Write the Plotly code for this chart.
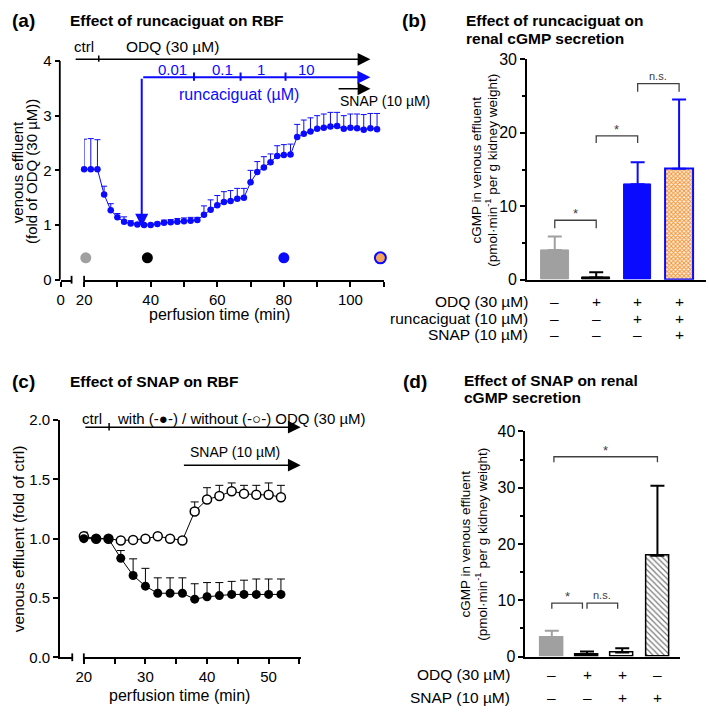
import plotly.graph_objects as go

W, H = 709, 716
def px(x):
    return x / W
def py(y):
    return 1 - y / H

FONT = "Liberation Sans, Arial, sans-serif"
BLUE = "#0A0AFF"
GRAY = "#A0A0A0"

# ---------------- Panel (a): runcaciguat on RBF ----------------
time_a = list(range(20, 110, 2))
rbf_a = [2.02, 2.02, 2.02, 1.56, 1.27, 1.14, 1.06, 1.03, 1.01, 1.00,
         1.00, 1.02, 1.04, 1.05, 1.06, 1.07, 1.08, 1.09, 1.19, 1.28,
         1.36, 1.42, 1.44, 1.48, 1.50, 1.78, 1.97, 2.05, 2.15, 2.26,
         2.28, 2.29, 2.61, 2.67, 2.71, 2.76, 2.78, 2.80, 2.81, 2.76,
         2.78, 2.77, 2.74, 2.77, 2.75]
sem_a = [0.55, 0.56, 0.54, 0.15, 0.12, 0.07, 0.09, 0.05, 0.03, 0.02,
         0.02, 0.03, 0.05, 0.05, 0.06, 0.06, 0.06, 0.05, 0.16, 0.18,
         0.18, 0.19, 0.19, 0.19, 0.17, 0.22, 0.19, 0.20, 0.15, 0.19,
         0.19, 0.19, 0.23, 0.25, 0.25, 0.24, 0.25, 0.26, 0.25, 0.24,
         0.25, 0.26, 0.28, 0.27, 0.29]
sample_time_a = [20.5, 39, 80, 109]
sample_level_a = [0.4, 0.4, 0.4, 0.4]
sample_colors_a = [GRAY, "black", BLUE, "#F5A55A"]
sample_lines_a = [GRAY, "black", BLUE, BLUE]
ticks_a_major = [20, 40, 60, 80, 100]
ticks_a_minor = [30, 50, 70, 90, 110]
yticks_a = [0, 1, 2, 3, 4]
conc_labels = ["0.01", "0.1", "1", "10"]
conc_label_x = [46.4, 61.5, 73, 86.7]
conc_step_x = [53, 67, 80.5]

# ---------------- Panel (b): cGMP with runcaciguat ----------------
cond_b = [0, 1, 2, 3]
cgmp_b = [4.05, 0.30, 13.0, 15.1]
sem_b = [1.85, 0.70, 3.0, 9.45]
odq_b = ["–", "+", "+", "+"]
runc_b = ["–", "–", "+", "+"]
snap_b = ["–", "–", "–", "+"]

# ---------------- Panel (c): SNAP on RBF ----------------
time_c = list(range(20, 54, 2))
with_odq = [1.00, 1.00, 1.00, 0.835, 0.69, 0.60, 0.54, 0.54, 0.54, 0.49,
            0.51, 0.52, 0.53, 0.53, 0.53, 0.53, 0.53]
with_sem = [0.01, 0.01, 0.01, 0.065, 0.14, 0.15, 0.13, 0.13, 0.13, 0.13,
            0.12, 0.11, 0.11, 0.12, 0.13, 0.13, 0.13]
without_odq = [1.02, 1.00, 1.00, 0.985, 0.99, 1.00, 1.02, 1.00, 0.985, 1.23,
               1.33, 1.36, 1.40, 1.38, 1.37, 1.37, 1.35]
without_sem = [0.035, 0.01, 0.01, 0.01, 0.01, 0.01, 0.01, 0.01, 0.01, 0.08,
               0.10, 0.09, 0.07, 0.07, 0.08, 0.10, 0.10]

# ---------------- Panel (d): cGMP with SNAP ----------------
cond_d = [0, 1, 2, 3]
cgmp_d = [3.46, 0.35, 0.75, 17.9]
sem_d = [1.14, 0.57, 0.75, 12.45]
odq_d = ["–", "+", "+", "–"]
snap_d2 = ["–", "–", "+", "+"]

fig = go.Figure()

# ---- (a) traces
fig.add_trace(go.Scatter(
    x=time_a, y=rbf_a, xaxis="x", yaxis="y", mode="lines+markers",
    line=dict(color=BLUE, width=1), marker=dict(color=BLUE, size=6.5),
    error_y=dict(type="data", symmetric=False, array=sem_a,
                 arrayminus=[0] * len(sem_a), color=BLUE, thickness=1, width=3),
    cliponaxis=False, showlegend=False))
fig.add_trace(go.Scatter(
    x=sample_time_a, y=sample_level_a, xaxis="x", yaxis="y", mode="markers",
    marker=dict(color=sample_colors_a, size=11,
                line=dict(color=sample_lines_a, width=[0, 0, 0, 2])),
    cliponaxis=False, showlegend=False))
fig.add_trace(go.Scatter(x=[0.5], y=[None], xaxis="x5", yaxis="y",
                         showlegend=False, hoverinfo="skip"))

# ---- (b) bars
b_fill = [GRAY, "black", BLUE, "#F7B77A"]
b_line = [GRAY, "black", BLUE, BLUE]
b_err = [GRAY, "black", BLUE, BLUE]
for i in range(4):
    marker = dict(color=b_fill[i], line=dict(color=b_line[i], width=2 if i == 3 else 1))
    if i == 3:
        marker["pattern"] = dict(shape="x", fgcolor="#F29436", bgcolor="#FFF1E2",
                                 size=3, solidity=0.55, fillmode="replace")
    fig.add_trace(go.Bar(
        x=[cond_b[i]], y=[cgmp_b[i]], xaxis="x2", yaxis="y2", width=0.668,
        marker=marker,
        error_y=dict(type="data", symmetric=False, array=[sem_b[i]], arrayminus=[0],
                     color=b_err[i], thickness=2, width=7),
        showlegend=False))

# ---- (c) traces
fig.add_trace(go.Scatter(
    x=time_c, y=without_odq, xaxis="x3", yaxis="y3", mode="lines+markers",
    line=dict(color="black", width=1),
    marker=dict(color="white", size=9, line=dict(color="black", width=1.5)),
    error_y=dict(type="data", symmetric=False, array=without_sem,
                 arrayminus=[0] * len(without_sem), color="black", thickness=1, width=4),
    cliponaxis=False, showlegend=False))
fig.add_trace(go.Scatter(
    x=time_c, y=with_odq, xaxis="x3", yaxis="y3", mode="lines+markers",
    line=dict(color="black", width=1),
    marker=dict(color="black", size=9),
    error_y=dict(type="data", symmetric=False, array=with_sem,
                 arrayminus=[0] * len(with_sem), color="black", thickness=1, width=4),
    cliponaxis=False, showlegend=False))
fig.add_trace(go.Scatter(x=[0.5], y=[None], xaxis="x6", yaxis="y3",
                         showlegend=False, hoverinfo="skip"))

# ---- (d) bars
d_fill = [GRAY, "black", "white", "white"]
d_line = [GRAY, "black", "black", "black"]
d_err = [GRAY, "black", "black", "black"]
for i in range(4):
    marker = dict(color=d_fill[i], line=dict(color=d_line[i], width=1.5))
    if i == 3:
        marker["pattern"] = dict(shape="\\", fgcolor="#777777", bgcolor="white",
                                 size=4, solidity=0.3, fillmode="replace")
    fig.add_trace(go.Bar(
        x=[cond_d[i]], y=[cgmp_d[i]], xaxis="x4", yaxis="y4", width=0.655,
        marker=marker,
        error_y=dict(type="data", symmetric=False, array=[sem_d[i]], arrayminus=[0],
                     color=d_err[i], thickness=2, width=7),
        showlegend=False))

# ---------------- axes ----------------
def AX(fs):
    return dict(showline=True, linecolor="black", linewidth=1.8, showgrid=False,
                zeroline=False, tickcolor="black", tickwidth=1.5, ticklen=5,
                tickfont=dict(size=fs, color="black", family=FONT), fixedrange=True)

def minor(vals, ln=5):
    return dict(tickmode="array", tickvals=vals, ticks="outside", ticklen=ln,
                tickwidth=1.5, tickcolor="black")

A_TOP = 4.45
fig.update_layout(
    xaxis=dict(AX(15), domain=[px(77), px(380)], range=[20, 110], anchor="y",
               ticks="outside", tickmode="array", tickvals=ticks_a_major,
               minor=minor(ticks_a_minor)),
    xaxis5=dict(AX(15), domain=[px(53.3), px(64.3)], range=[0, 1], anchor="y",
                ticks="outside", tickmode="array", tickvals=[0], ticktext=["0"]),
    yaxis=dict(AX(15), domain=[py(277.7), py(277.7 - A_TOP * 56.1)], range=[0, A_TOP],
               anchor="x5", showline=False,
               ticks="outside", tickmode="array", tickvals=yticks_a),
    xaxis2=dict(AX(16), domain=[px(525), px(706)], range=[-0.668, 3.65], anchor="y2",
                ticks="", showticklabels=False),
    yaxis2=dict(AX(16), domain=[py(277.7), py(51.7)], range=[0, 30], anchor="x2",
                ticks="outside", tickmode="array", tickvals=[0, 10, 20, 30],
                minor=minor([5, 15, 25], 3)),
    xaxis3=dict(AX(15), domain=[px(76.7), px(296)], range=[20, 55.2], anchor="y3",
                ticks="outside", tickmode="array", tickvals=[20, 30, 40, 50],
                minor=minor([25, 35, 45, 55])),
    xaxis6=dict(AX(15), domain=[px(52.7), px(65)], range=[0, 1], anchor="y3",
                ticks="", showticklabels=False),
    yaxis3=dict(AX(15), domain=[py(665), py(421.7)], range=[0, 2], anchor="x6",
                ticks="outside", tickmode="array", tickvals=[0, 0.5, 1, 1.5, 2],
                ticktext=["0.0", "0.5", "1.0", "1.5", "2.0"]),
    xaxis4=dict(AX(16), domain=[px(523.3), px(680)], range=[-0.75, 3.65], anchor="y4",
                ticks="", showticklabels=False),
    yaxis4=dict(AX(16), domain=[py(664.3), py(433.3)], range=[0, 40], anchor="x4",
                ticks="outside", tickmode="array", tickvals=[0, 10, 20, 30, 40],
                minor=minor([5, 15, 25, 35], 3)),
)

# ---------------- annotations ----------------
ann = []
def text(t, x, y, xref="paper", yref="paper", size=15, color="black",
         xanchor="center", yanchor="middle", angle=0, bold=False, yshift=0):
    if bold:
        t = "<b>" + t + "</b>"
    ann.append(dict(text=t, x=x, y=y, xref=xref, yref=yref, showarrow=False,
                    xanchor=xanchor, yanchor=yanchor, textangle=angle, yshift=yshift,
                    font=dict(size=size, color=color, family=FONT)))

def arrow(x0, y0, x1, y1, xref, yref, color="black", width=1.5, head=2, size=1.7):
    ann.append(dict(text="", x=x1, y=y1, ax=x0, ay=y0, xref=xref, yref=yref,
                    axref=xref, ayref=yref, showarrow=True, arrowhead=head,
                    arrowsize=size, arrowwidth=width, arrowcolor=color,
                    standoff=0, startstandoff=0))

# titles
text("(a)", px(2), py(12), size=19, xanchor="left", bold=True)
text("Effect of runcaciguat on RBF", px(61), py(12), size=15.5, xanchor="left", bold=True)
text("(b)", px(396), py(12), size=19, xanchor="left", bold=True)
text("Effect of runcaciguat on", px(461), py(12), size=15.5, xanchor="left", bold=True)
text("renal cGMP secretion", px(461), py(30), size=15.5, xanchor="left", bold=True)
text("(c)", px(2), py(382), size=19, xanchor="left", bold=True)
text("Effect of SNAP on RBF", px(61), py(382), size=15.5, xanchor="left", bold=True)
text("(d)", px(397), py(382), size=19, xanchor="left", bold=True)
text("Effect of SNAP on renal", px(459), py(381), size=15.5, xanchor="left", bold=True)
text("cGMP secretion", px(459), py(398.5), size=15.5, xanchor="left", bold=True)

# axis titles
text("venous effluent", px(9.5), py(167), size=15, angle=-90)
text("(fold of ODQ (30 µM))", px(24.5), py(167), size=15, angle=-90)
text("perfusion time (min)", px(214), py(313), size=16)
text("cGMP in venous effluent", px(474), py(165), size=13.5, angle=-90)
text("(pmol·min<sup>-1</sup> per g kidney weight)", px(488.5), py(165), size=13.5, angle=-90)
text("venous effluent (fold of ctrl)", px(10), py(543), size=15.5, angle=-90)
text("perfusion time (min)", px(173), py(704), size=16)
text("cGMP in venous effluent", px(462.5), py(549), size=13.5, angle=-90)
text("(pmol·min<sup>-1</sup> per g kidney weight)", px(479), py(549), size=13.5, angle=-90)

# panel (a) protocol annotations
arrow(17, 4.03, 106, 4.03, "x", "y")
arrow(24.4, 3.96, 24.4, 4.10, "x", "y", head=0)
text("ctrl", 20.1, 4.27, "x", "y", size=15)
text("ODQ (30 µM)", 46.5, 4.27, "x", "y", size=15.5)
arrow(37.3, 3.70, 106, 3.70, "x", "y", color=BLUE, width=2, size=1.3)
arrow(37.3, 3.70, 37.3, 0.97, "x", "y", color=BLUE, width=2, size=1.3)
for sx in conc_step_x:
    arrow(sx, 3.61, sx, 3.79, "x", "y", color=BLUE, width=2, head=0)
for lab, lx in zip(conc_labels, conc_label_x):
    text(lab, lx, 3.84, "x", "y", size=15, color=BLUE)
text("runcaciguat (µM)", 66.5, 3.39, "x", "y", size=16, color=BLUE)
arrow(96, 3.49, 106, 3.49, "x", "y")
text("SNAP (10 µM)", 96.2, 3.26, "x", "y", size=14, xanchor="left")

# panel (c) protocol annotations
arrow(20, 1.94, 55.2, 1.94, "x3", "y3")
arrow(24.1, 1.90, 24.1, 1.975, "x3", "y3", head=0)
text("ctrl", 21.3, 1.99, "x3", "y3", size=15, yshift=3)
text("with (-●-) / without (-○-) ODQ (30 µM)", 25.0, 1.99, "x3", "y3", size=15,
     xanchor="left", yshift=3)
arrow(36.0, 1.62, 55.2, 1.62, "x3", "y3")
text("SNAP (10 µM)", 44.5, 1.73, "x3", "y3", size=14)

# treatment rows
rows_b = [("ODQ (30 µM)", odq_b, 300), ("runcaciguat (10 µM)", runc_b, 317),
          ("SNAP (10 µM)", snap_b, 334)]
for lab, signs, yy in rows_b:
    text(lab, px(528), py(yy), size=15.5, xanchor="right")
    for c, s in zip(cond_b, signs):
        text(s, c, py(yy), "x2", "paper", size=15.5)
rows_d = [("ODQ (30 µM)", odq_d, 683), ("SNAP (10 µM)", snap_d2, 706)]
for lab, signs, yy in rows_d:
    text(lab, px(510), py(yy), size=15.5, xanchor="right")
    for c, s in zip(cond_d, signs):
        text(s, c, py(yy), "x4", "paper", size=15.5)

# significance brackets
shapes = []
def bracket(x0, x1, top, leg, xref, yref, label, size):
    shapes.append(dict(type="path", xref=xref, yref=yref,
                       path=f"M {x0},{leg} L {x0},{top} L {x1},{top} L {x1},{leg}",
                       line=dict(color="#404040", width=1.3)))
    ann.append(dict(text=label, x=(x0 + x1) / 2, y=top, xref=xref, yref=yref,
                    showarrow=False, xanchor="center", yanchor="bottom",
                    yshift=-3 if label == "*" else 0,
                    font=dict(size=size, color="#404040", family=FONT)))

bracket(0, 1, 8.1, 7.0, "x2", "y2", "*", 13)
bracket(1, 2, 19.6, 18.6, "x2", "y2", "*", 13)
bracket(2, 3, 26.7, 25.6, "x2", "y2", "n.s.", 11)
bracket(0, 0.87, 9.5, 8.5, "x4", "y4", "*", 13)
bracket(1.0, 1.87, 9.5, 8.5, "x4", "y4", "n.s.", 11)
bracket(0.06, 3.0, 35.5, 34.5, "x4", "y4", "*", 13)

# y axis line of panel (a) (ends at 4, the top tick)
shapes.append(dict(type="line", xref="paper", yref="y", x0=px(52.4), x1=px(52.4),
                   y0=yticks_a[0], y1=yticks_a[-1], line=dict(color="black", width=1.8)))

# axis break marks
for bx, y0, y1 in [(64.3, 273.7, 281.7), (77.0, 273.7, 281.7),
                   (65.0, 661.0, 669.0), (76.7, 661.0, 669.0)]:
    shapes.append(dict(type="line", xref="paper", yref="paper",
                       x0=px(bx), x1=px(bx), y0=py(y0), y1=py(y1),
                       line=dict(color="black", width=1.8)))

fig.update_layout(
    width=W, height=H, margin=dict(l=0, r=0, t=0, b=0),
    paper_bgcolor="white", plot_bgcolor="white", showlegend=False,
    font=dict(family=FONT, color="black"),
    annotations=ann, shapes=shapes, bargap=0,
)

fig.write_html("out.html", config={"displayModeBar": False},
               post_script="document.body.style.margin='0';"
                           "document.body.style.padding='0';"
                           "document.documentElement.style.overflow='hidden';")
